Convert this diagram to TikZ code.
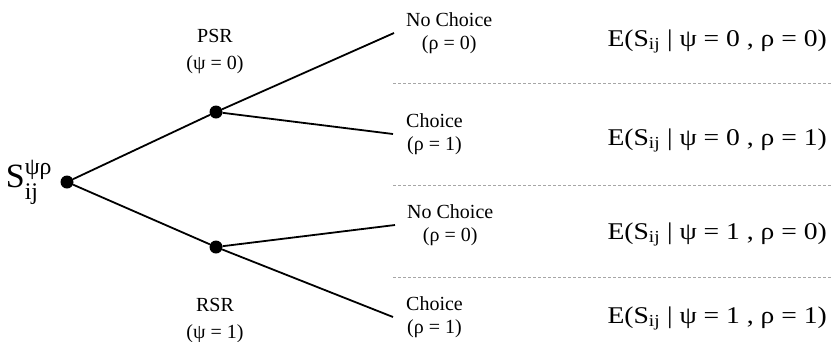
\documentclass[tikz,border=0pt]{standalone}
\usepackage{fontspec}
\setmainfont{Liberation Serif}
\usepackage{amsmath}
\usetikzlibrary{positioning}

\begin{document}
\begin{tikzpicture}[x=1pt, y=-1pt,
  dot/.style={circle, fill=black, inner sep=0pt, minimum size=13pt},
  branch/.style={line width=1.8pt},
  sep/.style={gray!70, line width=0.6pt, dash pattern=on 3pt off 2pt},
  leaf/.style={align=center, inner sep=0pt, font=\fontsize{20}{23}\selectfont},
  arm/.style={align=center, inner sep=0pt, font=\fontsize{20}{27}\selectfont},
  expect/.style={anchor=base east, inner sep=0pt, font=\fontsize{24}{28}\selectfont}]
\useasboundingbox (0,0) rectangle (832,341);

% tree
\node[dot] (root) at (67,182) {};
\node[dot] (psr) at (216,112) {};
\node[dot] (rsr) at (216,247) {};
\node[left=8pt of root, inner sep=0pt, font=\fontsize{34}{40}\selectfont] (s) {$\text{S}^{\text{ψρ}}_{\text{ij}}$};
\node[arm] (psrlab) at (215,52) {PSR\\(ψ = 0)};
\node[arm] (rsrlab) at (215,320) {RSR\\(ψ = 1)};

\coordinate (c1) at (394,33);
\coordinate (c2) at (393,134);
\coordinate (c3) at (395,225);
\coordinate (c4) at (393,317);
\node[leaf, right=12pt of c1] (l1) {No Choice\\(ρ = 0)};
\node[leaf, right=13pt of c2] (l2) {Choice\\(ρ = 1)};
\node[leaf, right=12pt of c3] (l3) {No Choice\\(ρ = 0)};
\node[leaf, right=13pt of c4] (l4) {Choice\\(ρ = 1)};

\draw[branch] (root) -- (psr);
\draw[branch] (root) -- (rsr);
\draw[branch] (psr) -- (c1);
\draw[branch] (psr) -- (c2);
\draw[branch] (rsr) -- (c3);
\draw[branch] (rsr) -- (c4);

% expected values
\foreach \y/\p/\r [count=\k] in {46/0/0, 145/0/1, 239/1/0, 323/1/1} {
  \node[expect] (e\k) at (827,\y) {\scalebox{1.15}[1]{E($\text{S}_{\text{ij}}$ | ψ = \p\ , ρ = \r)}};
}
\foreach \y in {83,185,277} {
  \draw[sep] (393,\y) -- (832,\y);
}
\end{tikzpicture}
\end{document}
